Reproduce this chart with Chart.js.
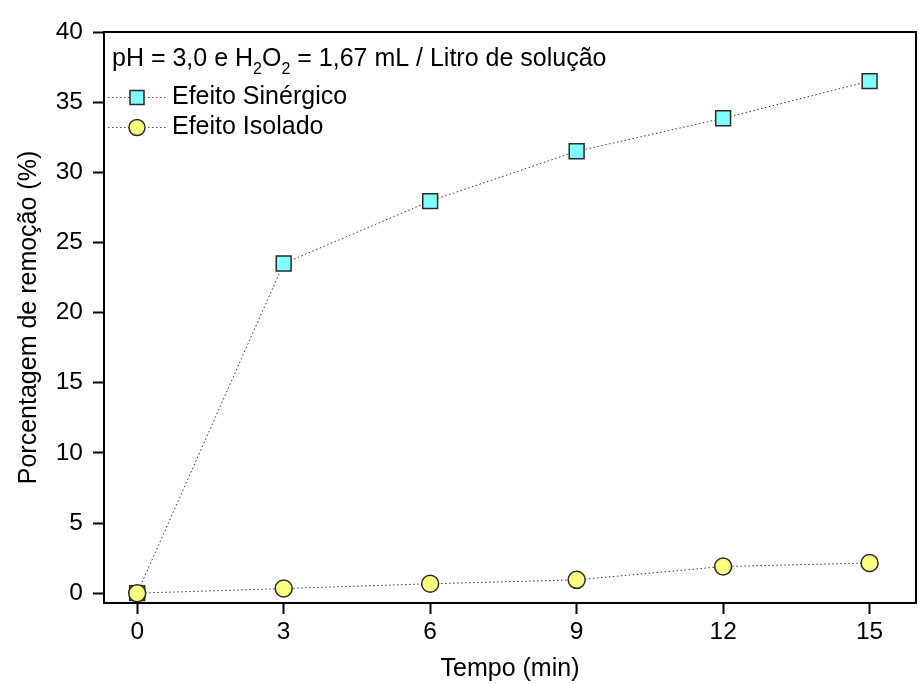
<!DOCTYPE html>
<html>
<head>
<meta charset="utf-8">
<script src="https://cdn.jsdelivr.net/npm/chart.js@4"></script>
<style>
  html, body { margin: 0; padding: 0; background: #fff; }
  #wrap { width: 918px; height: 684px; }
</style>
</head>
<body>
<div id="wrap"><canvas id="chart" width="918" height="684"></canvas></div>
<script>
'use strict';

// Dados
const tempo = [0, 3, 6, 9, 12, 15];
const sinergico = [0, 23.5, 27.95, 31.5, 33.85, 36.5];
const isolado = [0, 0.33, 0.67, 0.95, 1.9, 2.15];
const xTicks = [0, 3, 6, 9, 12, 15];
const yTicks = [0, 5, 10, 15, 20, 25, 30, 35, 40];

const FONT = '"Liberation Sans", Arial, sans-serif';
const corQuadrado = '#80ffff';
const corCirculo = '#ffff80';
const corBorda = '#2a2a2a';
const pontilhado = [1.5, 2.5];

// Moldura, legenda e anotação dentro da área do gráfico
const moldura = {
  id: 'moldura',
  afterDraw(chart) {
    const { ctx, chartArea: a } = chart;
    ctx.save();
    ctx.strokeStyle = '#000';
    ctx.lineWidth = 2;
    ctx.strokeRect(a.left, a.top, a.right - a.left, a.bottom - a.top);

    // texto pH = 3,0 e H2O2 = ...
    ctx.fillStyle = '#000';
    ctx.textBaseline = 'alphabetic';
    let x = a.left + 8;
    const y = a.top + 34;
    const partes = [
      ['pH = 3,0 e H', 25, 0],
      ['2', 16, 8],
      ['O', 25, 0],
      ['2', 16, 8],
      [' = 1,67 mL / Litro de solução', 25, 0],
    ];
    for (const [t, s, dy] of partes) {
      ctx.font = `${s}px ${FONT}`;
      ctx.fillText(t, x, y + dy);
      x += ctx.measureText(t).width;
    }

    // entradas da legenda
    const itens = [
      { nome: 'Efeito Sinérgico', tipo: 'rect', cor: corQuadrado, y: a.top + 65.5 },
      { nome: 'Efeito Isolado', tipo: 'circle', cor: corCirculo, y: a.top + 95.5 },
    ];
    for (const it of itens) {
      ctx.setLineDash(pontilhado);
      ctx.strokeStyle = '#555';
      ctx.lineWidth = 1;
      ctx.beginPath();
      ctx.moveTo(a.left + 4, it.y);
      ctx.lineTo(a.left + 62, it.y);
      ctx.stroke();
      ctx.setLineDash([]);
      ctx.fillStyle = it.cor;
      ctx.strokeStyle = corBorda;
      ctx.lineWidth = 1.5;
      const cx = a.left + 33;
      if (it.tipo === 'rect') {
        ctx.fillRect(cx - 7, it.y - 7, 14, 14);
        ctx.strokeRect(cx - 7, it.y - 7, 14, 14);
      } else {
        ctx.beginPath();
        ctx.arc(cx, it.y, 8, 0, Math.PI * 2);
        ctx.fill();
        ctx.stroke();
      }
      ctx.fillStyle = '#000';
      ctx.font = `25px ${FONT}`;
      ctx.textBaseline = 'middle';
      ctx.fillText(it.nome, a.left + 68, it.y);
    }
    ctx.restore();
  },
};

const ctx = document.getElementById('chart').getContext('2d');
new Chart(ctx, {
  type: 'line',
  data: {
    datasets: [
      {
        label: 'Efeito Sinérgico',
        data: tempo.map((t, i) => ({ x: t, y: sinergico[i] })),
        borderColor: '#333',
        borderWidth: 1,
        borderDash: pontilhado,
        pointStyle: 'rect',
        pointRadius: 10.5,
        pointBackgroundColor: corQuadrado,
        pointBorderColor: corBorda,
        pointBorderWidth: 1.5,
        order: 1,
      },
      {
        label: 'Efeito Isolado',
        data: tempo.map((t, i) => ({ x: t, y: isolado[i] })),
        borderColor: '#333',
        borderWidth: 1,
        borderDash: pontilhado,
        pointStyle: 'circle',
        pointRadius: 8.5,
        pointBackgroundColor: corCirculo,
        pointBorderColor: corBorda,
        pointBorderWidth: 1.5,
        order: 0,
      },
    ],
  },
  options: {
    responsive: false,
    animation: false,
    layout: { autoPadding: false, padding: { top: 32, right: 2, left: 0, bottom: 0 } },
    plugins: {
      legend: { display: false },
      tooltip: { enabled: false },
    },
    scales: {
      x: {
        type: 'linear',
        min: -0.68,
        max: 15.95,
        afterBuildTicks: s => { s.ticks = xTicks.map(v => ({ value: v })); },
        afterFit: s => { s.height = 81; s.paddingRight = 0; s.paddingLeft = 0; },
        grid: { drawOnChartArea: false, tickLength: 11, color: '#000', tickWidth: 2 },
        border: { color: '#000', width: 2 },
        ticks: { color: '#000', font: { family: FONT, size: 24.5 }, padding: 4, maxRotation: 0 },
        title: { display: true, text: 'Tempo (min)', color: '#000', font: { family: FONT, size: 25 }, padding: { top: 0, bottom: 0 } },
      },
      y: {
        type: 'linear',
        min: -0.7,
        max: 40,
        afterBuildTicks: s => { s.ticks = yTicks.map(v => ({ value: v })); },
        afterFit: s => { s.width = 104; s.paddingTop = 0; s.paddingBottom = 0; },
        grid: { drawOnChartArea: false, tickLength: 11, color: '#000', tickWidth: 2 },
        border: { color: '#000', width: 2 },
        ticks: { color: '#000', font: { family: FONT, size: 24.5 }, padding: 10 },
        title: { display: true, text: 'Porcentagem de remoção (%)', color: '#000', font: { family: FONT, size: 25 }, padding: { top: 14, bottom: 0 } },
      },
    },
  },
  plugins: [moldura],
});
</script>
</body>
</html>
